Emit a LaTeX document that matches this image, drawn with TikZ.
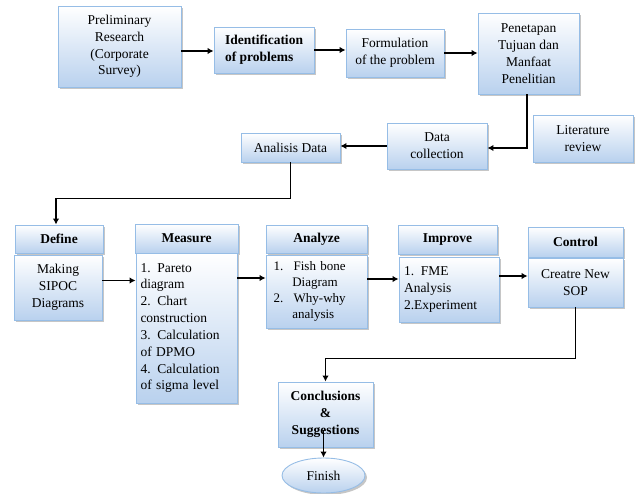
\documentclass[tikz,border=0pt]{standalone}
\usepackage{fontspec}
\setmainfont{Liberation Serif}
\usetikzlibrary{shadows,arrows.meta,shapes.geometric,calc}
\definecolor{boxblue}{HTML}{B9D1EE}
\definecolor{boxline}{HTML}{96BDE6}
\tikzset{
  bx/.style={draw=boxline, line width=0.9pt, top color=white, bottom color=boxblue,
    drop shadow={opacity=0.45, shadow xshift=2pt, shadow yshift=-2pt, fill=gray},
    inner sep=2pt, align=center, font=\fontsize{13.5}{16.8}\selectfont},
  hd/.style={bx, font=\fontsize{13.5}{16.8}\selectfont\bfseries},
  arr/.style={line width=1.8pt, -{Latex[length=6pt,width=6.5pt]}},
}
\begin{document}
\begin{tikzpicture}[x=1pt,y=-1pt]
\useasboundingbox (0,0) rectangle (639,494);
% top row
\node[bx, minimum width=123pt, minimum height=81pt] (prelim) at (119.5,46.5) {Preliminary\\Research\\(Corporate\\Survey)};
\node[hd, minimum width=100pt, minimum height=46pt, align=left] (ident) at (264,50) {Identification\\of problems};
\node[bx, minimum width=98pt, minimum height=48pt] (form) at (395,53) {Formulation\\of the problem};
\node[bx, minimum width=101pt, minimum height=81pt] (pen) at (528.5,53.5) {Penetapan\\Tujuan dan\\Manfaat\\Penelitian};
% second row
\node[bx, minimum width=100pt, minimum height=47pt] (lit) at (583,138.5) {Literature\\review};
\node[bx, minimum width=100pt, minimum height=46pt] (datacol) at (437,146) {Data\\collection};
\node[bx, minimum width=99pt, minimum height=29pt] (analisis) at (290.5,147.5) {Analisis Data};
% DMAIC
\node[hd, minimum width=88pt, minimum height=28pt] (defineH) at (59,239) {Define};
\node[bx, minimum width=88pt, minimum height=65pt] (defineB) at (58,287.5) {Making\\SIPOC\\Diagrams};
\node[hd, minimum width=103pt, minimum height=29pt] (measureH) at (186.5,238.5) {Measure};
\node[bx, minimum width=101pt, minimum height=150pt, align=left, text width=92pt] (measureB) at (186.5,328) {1. Pareto\\diagram\\2. Chart\\construction\\3. Calculation\\of DPMO\\4. Calculation\\of sigma level};
\node[hd, minimum width=101pt, minimum height=28pt] (analyzeH) at (316.5,239) {Analyze};
\node[bx, minimum width=101pt, minimum height=73pt, align=left, text width=86pt, xshift=4pt, font=\fontsize{13}{16}\selectfont] (analyzeB) at (312.5,291.5) {1.\hspace{0.8em}Fish bone\\\hspace*{1.45em}Diagram\\2.\hspace{0.8em}Why-why\\\hspace*{1.45em}analysis};
\node[hd, minimum width=99pt, minimum height=29pt] (improveH) at (447.5,239.5) {Improve};
\node[bx, minimum width=100pt, minimum height=65pt, align=left, text width=90pt] (improveB) at (449,289.5) {1. FME\\Analysis\\2.Experiment};
\node[hd, minimum width=95pt, minimum height=30pt] (controlH) at (575.5,242) {Control};
\node[bx, minimum width=95pt, minimum height=49pt] (controlB) at (575.5,282.5) {Creatre New\\SOP};
% end
\node[hd, minimum width=95pt, minimum height=65pt] (concl) at (325.5,414.5) {Conclusions\\\&\\Suggestions};
\node[bx, ellipse, minimum width=83pt, minimum height=35pt] (finish) at (323.5,475.5) {Finish};
% connectors
\draw[arr] ([yshift=-4.5pt]prelim.east) -- ([yshift=-4.5pt]prelim.east -| ident.west);
\draw[arr] (ident.east) -- (ident.east -| form.west);
\draw[arr] (form.east) -- (form.east -| pen.west);
\draw[arr] ([xshift=-1.5pt]pen.south) |- ([yshift=-2pt]datacol.east);
\draw[arr] (datacol.west) -- (datacol.west -| analisis.east);
\draw[arr] (analisis.south) -- ++(0,36) -| ([xshift=-3pt]defineH.north);
\draw[arr] ([yshift=7pt]defineB.east) -- ([yshift=7pt]defineB.east -| measureB.west);
\draw[arr] ([yshift=13.5pt]analyzeB.west -| measureB.east) -- ([yshift=13.5pt]analyzeB.west);
\draw[arr] ([yshift=10.5pt]improveB.west -| analyzeB.east) -- ([yshift=10.5pt]improveB.west);
\draw[arr] ([yshift=6.5pt]controlB.west -| improveB.east) -- ([yshift=6.5pt]controlB.west);
\draw[arr] (controlB.south) -- ++(0,51) -| (concl.north);
\draw[arr] ([yshift=-15pt]concl.center -| finish.north) -- (finish.north);
\end{tikzpicture}
\end{document}
